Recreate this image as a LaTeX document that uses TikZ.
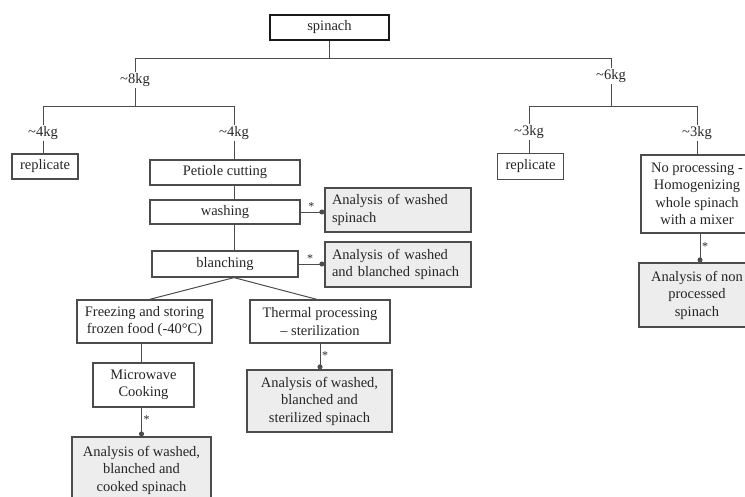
\documentclass[tikz,border=0pt]{standalone}
\usepackage{fontspec}
\setmainfont{Liberation Serif}
\usetikzlibrary{arrows.meta}
\begin{document}
\begin{tikzpicture}[x=1pt,y=-1pt,
  every node/.style={font=\fontsize{14.5}{17.5}\selectfont, text=black!85},
  box/.style={draw=black!70, line width=1.2pt, inner sep=2pt, align=center},
  abox/.style={box, fill=black!7},
  lbl/.style={inner sep=1pt},
  conn/.style={draw=black!70, line width=1pt},
  dotarrow/.style={conn, -{Circle[length=5pt]}},
  star/.style={font=\fontsize{12}{12}\selectfont, inner sep=1.5pt}]
\useasboundingbox (0,0) rectangle (745,496);

% nodes
\node[box, draw=black!90, line width=2.4pt, minimum width=119pt, minimum height=25pt] (spinach) at (329.5,27.5) {spinach};
\node[lbl] (kg8) at (135,80) {\textasciitilde8kg};
\node[lbl] (kg6) at (611,76) {\textasciitilde6kg};
\node[lbl] (kg4a) at (43,133) {\textasciitilde4kg};
\node[lbl] (kg4b) at (234,133) {\textasciitilde4kg};
\node[lbl] (kg3a) at (529,132) {\textasciitilde3kg};
\node[lbl] (kg3b) at (697,133) {\textasciitilde3kg};

\node[box, minimum width=66pt, minimum height=25pt] (rep1) at (45,166.5) {replicate};
\node[box, minimum width=66pt, minimum height=26pt] (rep2) at (530.5,166.5) {replicate};
\node[box, minimum width=112pt, minimum height=78pt] (noproc) at (697,194) {No processing -\\Homogenizing\\whole spinach\\with a mixer};
\node[abox, minimum width=116pt, minimum height=64pt] (anp) at (697,295) {Analysis of non\\processed\\spinach};

\node[box, minimum width=150pt, minimum height=25pt] (petiole) at (225,172.5) {Petiole cutting};
\node[box, minimum width=150pt, minimum height=24pt] (washing) at (225,212) {washing};
\node[box, minimum width=146pt, minimum height=26pt] (blanching) at (225,264) {blanching};
\node[abox, minimum height=44pt, text width=132pt, inner xsep=7pt, align=left] (aw) at (398,210) {Analysis of washed\\spinach};
\node[abox, minimum height=45pt, text width=132pt, inner xsep=7pt, align=left] (awb) at (398,264.5) {Analysis of washed\\and blanched spinach};

\node[box, minimum width=135pt, minimum height=43pt] (freeze) at (144.5,321.5) {Freezing and storing\\frozen food (-40°C)};
\node[box, minimum width=140pt, minimum height=43pt] (thermal) at (320,321.5) {Thermal processing\\– sterilization};
\node[box, minimum width=101pt, minimum height=44pt] (micro) at (143.5,385) {Microwave\\Cooking};
\node[abox, minimum width=139pt, minimum height=66pt] (awbc) at (141.5,470) {Analysis of washed,\\blanched and\\cooked spinach};
\node[abox, minimum width=145pt, minimum height=62pt] (aws) at (319.5,401) {Analysis of washed,\\blanched and\\sterilized spinach};

% junction rows
\coordinate (b1) at (0,58);
\coordinate (b2) at (0,106);

% tree connectors
\draw[conn] (spinach.south) -- (spinach.south |- b1);
\draw[conn] (kg8.north) -- (kg8 |- b1) -- (kg6 |- b1) -- (kg6.north);
\draw[conn] (kg8.south) -- (kg8 |- b2);
\draw[conn] (kg6.south) -- (kg6 |- b2);
\draw[conn] (kg4a.north) -- (kg4a |- b2) -- (kg4b |- b2) -- (kg4b.north);
\draw[conn] (kg3a.north) -- (kg3a |- b2) -- (kg3b |- b2) -- (kg3b.north);
\draw[conn] (kg4a.south) -- (kg4a.south |- rep1.north);
\draw[conn] (kg3a.south) -- (kg3a.south |- rep2.north);
\draw[conn] (kg3b.south) -- (kg3b.south |- noproc.north);
\draw[conn] (kg4b.south) -- (kg4b.south |- petiole.north);
\draw[conn] (petiole.south -| kg4b) -- (washing.north -| kg4b);
\draw[conn] (washing.south -| kg4b) -- (blanching.north -| kg4b);
\draw[conn] (blanching.south -| kg4b) -- ([xshift=5pt]freeze.north);
\draw[conn] (blanching.south -| kg4b) -- ([xshift=-3pt]thermal.north);
\coordinate (mt) at ([xshift=-2pt]micro.north);
\draw[conn] (freeze.south -| mt) -- (mt);

% analysis connectors
\draw[dotarrow] (washing.east) -- (washing.east -| aw.west) node[star, pos=0.45, above] {*};
\draw[dotarrow] (blanching.east) -- (blanching.east -| awb.west) node[star, pos=0.45, above] {*};
\draw[dotarrow] ([xshift=-2pt]micro.south) -- ([xshift=-2pt]micro.south |- awbc.north) node[star, pos=0.4, right] {*};
\draw[dotarrow] (thermal.south) -- (thermal.south |- aws.north) node[star, pos=0.45, right] {*};
\draw[dotarrow] ([xshift=3pt]noproc.south) -- ([xshift=3pt]noproc.south |- anp.north) node[star, pos=0.45, right] {*};
\end{tikzpicture}
\end{document}
